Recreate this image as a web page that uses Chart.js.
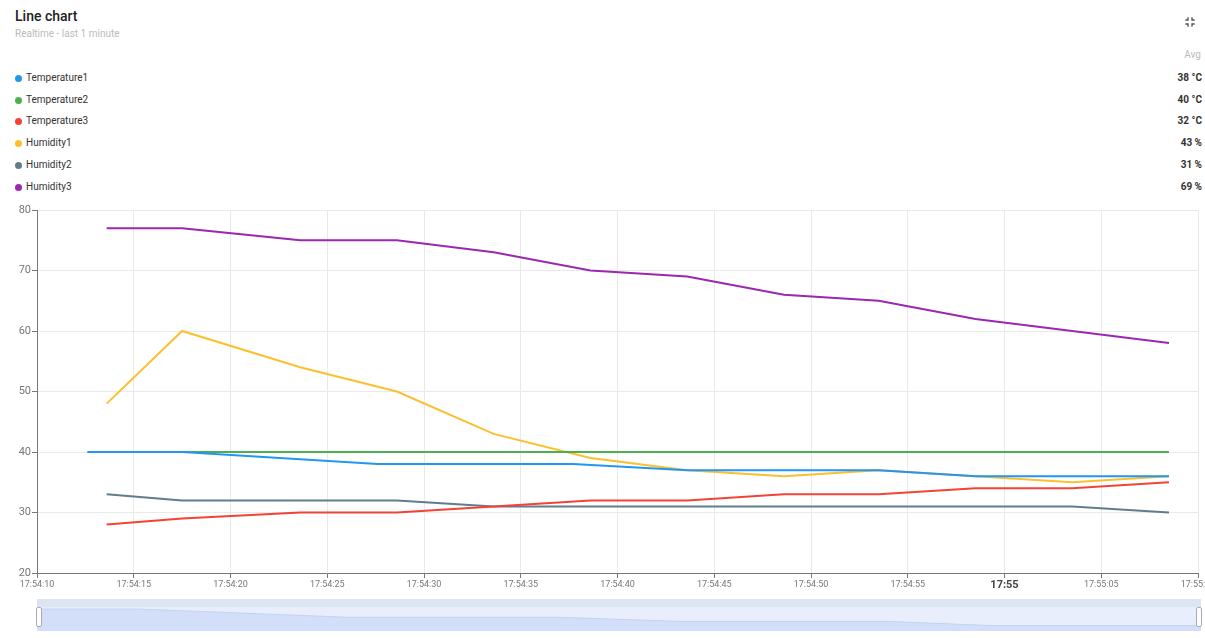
<!DOCTYPE html>
<html>
<head>
<meta charset="utf-8">
<script src="https://cdn.jsdelivr.net/npm/chart.js@4/dist/chart.umd.min.js"></script>
<style>
  html, body { margin: 0; padding: 0; background: #fff; }
  body { width: 1205px; height: 638px; position: relative; overflow: hidden; font-family: Roboto, "Noto Sans", sans-serif; }
  .title { position: absolute; left: 15px; top: 8px; font-size: 14px; font-weight: 500; color: #222; }
  .subtitle { position: absolute; left: 15px; top: 28px; font-size: 10px; color: #bbb; }
  .icon { position: absolute; left: 1182px; top: 14px; width: 16px; height: 16px; }
  .avg-head { position: absolute; right: 4px; top: 49px; font-size: 10px; color: #bbb; }
  .legend-row { position: absolute; left: 0; width: 1202px; height: 14px; font-size: 10px; color: #333; }
  .legend-row .dot { position: absolute; left: 15px; top: 3.5px; width: 7px; height: 7px; border-radius: 50%; }
  .legend-row .name { position: absolute; left: 26px; top: 0; line-height: 14px; }
  .legend-row .avg { position: absolute; right: 0; top: 0; line-height: 14px; font-weight: bold; color: #333; }
  #mainWrap { position: absolute; left: 0; top: 200px; width: 1205px; height: 395px; }
  #navWrap { position: absolute; left: 37px; top: 599px; width: 1164px; height: 32px; background: #dde5f5; }
  #navInner { position: absolute; left: 0; top: 8px; width: 1164px; height: 24px; background: #e8eefc; }
  .handle { position: absolute; top: 8px; width: 4px; height: 18px; background: #fff; border: 1px solid #aab; border-radius: 2px; }
</style>
</head>
<body>
<div class="title">Line chart</div>
<div class="subtitle">Realtime - last 1 minute</div>
<svg class="icon" viewBox="0 0 24 24"><path fill="#555" d="M5 16h3v3h2v-5H5v2zm3-8H5v2h5V5H8v3zm6 11h2v-3h3v-2h-5v5zm2-11V5h-2v5h5V8h-3z"/></svg>
<div class="avg-head">Avg</div>
<div id="legend"></div>
<div id="mainWrap"><canvas id="myChart" width="1205" height="395"></canvas></div>
<div id="navWrap">
  <div id="navInner"><canvas id="navChart" width="1164" height="24"></canvas></div>
  <div class="handle" style="left:-1px"></div>
  <div class="handle" style="left:1159px"></div>
</div>
<script>
// seconds after 17:54:10
const times = [3.6, 7.5, 13.6, 18.6, 23.6, 28.6, 33.6, 38.6, 43.5, 48.5, 53.5, 58.5];
const temp1Times = [2.6, 7.5, 17.6, 27.7, 33.6, 43.5, 48.5, 58.5];

const seriesNames = ['Temperature1', 'Temperature2', 'Temperature3', 'Humidity1', 'Humidity2', 'Humidity3'];
const seriesColors = ['#2196f3', '#4caf50', '#f44336', '#fbc02d', '#607d8b', '#9c27b0'];
const avgLabels = ['38 °C', '40 °C', '32 °C', '43 %', '31 %', '69 %'];

const temperature1 = [40, 40, 38, 38, 37, 37, 36, 36];
const temperature2 = [40, 40, 40, 40, 40, 40, 40, 40, 40, 40, 40, 40];
const temperature3 = [28, 29, 30, 30, 31, 32, 32, 33, 33, 34, 34, 35];
const humidity1 = [48, 60, 54, 50, 43, 39, 37, 36, 37, 36, 35, 36];
const humidity2 = [33, 32, 32, 32, 31, 31, 31, 31, 31, 31, 31, 30];
const humidity3 = [77, 77, 75, 75, 73, 70, 69, 66, 65, 62, 60, 58];

const xTickLabels = ['17:54:10', '17:54:15', '17:54:20', '17:54:25', '17:54:30', '17:54:35',
  '17:54:40', '17:54:45', '17:54:50', '17:54:55', '17:55', '17:55:05', '17:55:10'];
const yTicks = [20, 30, 40, 50, 60, 70, 80];

// legend table
const legend = document.getElementById('legend');
const rowTops = [71, 93, 114, 136, 158, 180];
seriesNames.forEach((name, i) => {
  const row = document.createElement('div');
  row.className = 'legend-row';
  row.style.top = rowTops[i] + 'px';
  row.innerHTML = '<span class="dot" style="background:' + seriesColors[i] + '"></span>' +
    '<span class="name">' + name + '</span><span class="avg">' + avgLabels[i] + '</span>';
  legend.appendChild(row);
});

const toPoints = (xs, ys) => ys.map((y, i) => ({ x: xs[i], y: y }));
const allValues = [temperature1, temperature2, temperature3, humidity1, humidity2, humidity3];

const datasets = allValues.map((vals, i) => ({
  label: seriesNames[i],
  data: toPoints(i === 0 ? temp1Times : times, vals),
  borderColor: seriesColors[i],
  backgroundColor: seriesColors[i],
  borderWidth: 2,
  pointRadius: 0,
  tension: 0,
  fill: false
}));

const ctx = document.getElementById('myChart');
const myChart = new Chart(ctx, {
  type: 'line',
  data: { datasets: datasets },
  options: {
    responsive: false,
    animation: false,
    devicePixelRatio: 1,
    layout: { padding: { top: 10, right: 7, left: 0, bottom: 0 } },
    plugins: { legend: { display: false }, tooltip: { enabled: false } },
    scales: {
      x: {
        type: 'linear',
        min: 0,
        max: 60,
        afterBuildTicks: (scale) => {
          scale.ticks = xTickLabels.map((l, i) => ({ value: i * 5 }));
        },
        afterFit: (scale) => {
          scale.height = 22;
          scale.paddingLeft = 0;
          scale.paddingRight = 0;
        },
        grid: { color: '#e9e9e9', tickColor: '#777', tickLength: 5 },
        border: { color: '#777', width: 1 },
        ticks: {
          autoSkip: false,
          maxRotation: 0,
          padding: 1,
          color: (c) => xTickLabels[c.index] === '17:55' ? '#444' : '#777',
          font: (c) => xTickLabels[c.index] === '17:55'
            ? { family: 'Roboto', size: 11, weight: 'bold' }
            : { family: 'Roboto', size: 9 },
          callback: (v, i) => xTickLabels[i]
        }
      },
      y: {
        min: 20,
        max: 80,
        afterBuildTicks: (scale) => {
          scale.ticks = yTicks.map(v => ({ value: v }));
        },
        afterFit: (scale) => { scale.width = 37; },
        grid: { color: '#e9e9e9', tickColor: '#777', tickLength: 5 },
        border: { color: '#777', width: 1 },
        ticks: {
          padding: 1,
          color: '#777',
          font: { family: 'Roboto', size: 11 }
        }
      }
    }
  }
});

// overview navigator under the chart (first series over its own time span)
const navChart = new Chart(document.getElementById('navChart'), {
  type: 'line',
  data: {
    datasets: [{
      data: toPoints(temp1Times, temperature1),
      borderColor: '#c3d2f2',
      backgroundColor: '#d3dff9',
      borderWidth: 1,
      pointRadius: 0,
      tension: 0,
      fill: 'start'
    }]
  },
  options: {
    responsive: false,
    animation: false,
    devicePixelRatio: 1,
    layout: { padding: 0 },
    plugins: { legend: { display: false }, tooltip: { enabled: false } },
    scales: {
      x: { type: 'linear', display: false, min: temp1Times[0], max: temp1Times[temp1Times.length - 1] },
      y: { display: false, min: 34.7, max: 40.5 }
    }
  }
});
</script>
</body>
</html>
